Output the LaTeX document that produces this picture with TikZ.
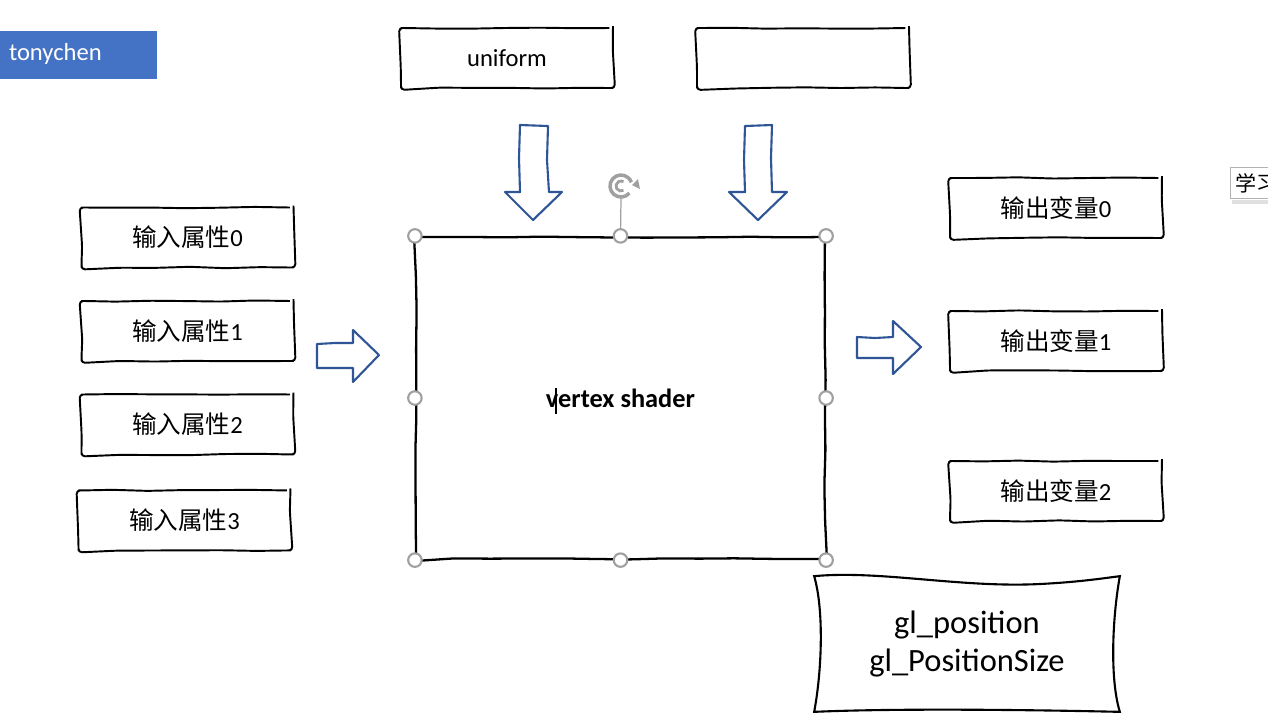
\documentclass[tikz,border=0pt]{standalone}
\usepackage{fontspec}
\setmainfont{Carlito}
\newfontfamily\cjk{Noto Sans CJK SC}
\usepackage{tikz}
\usetikzlibrary{positioning,decorations.pathmorphing,arrows.meta}
\definecolor{tonyblue}{RGB}{68,114,196}
\definecolor{arrowblue}{RGB}{47,85,151}
\definecolor{handlegrey}{RGB}{160,160,160}
\tikzstyle{sketch} = [draw, line width=1.1pt, line join=round, decorate, decoration={random steps,
segment length=0.7cm, amplitude=0.4pt}, rounded corners=2pt]
\tikzstyle{varbox} = [rectangle, sketch, text centered, minimum width=4.24cm, minimum
height=1.2cm, font=\fontsize{14}{17}\selectfont]
\tikzstyle{shader} = [rectangle, sketch, line width=1.3pt, minimum width=8.18cm, minimum
height=6.44cm, font=\bfseries\fontsize{15}{18}\selectfont]
\tikzstyle{blockarrow} = [draw=arrowblue, line width=1.2pt, fill=white, line join=round]
\tikzstyle{handle} = [circle, draw=handlegrey, fill=white, line width=1.2pt, inner sep=0pt,
minimum size=0.27cm]

\begin{document}
\pgfmathsetseed{7}
\begin{tikzpicture}[x=0.02cm, y=-0.02cm, node distance=1.87cm]
		\clip (0,0) rectangle (1268,725);
		\fill [white] (0,0) rectangle (1268,725);
		\node [fill=tonyblue, text=white, minimum width=3.14cm, minimum height=0.96cm, text width=2.78cm,
		align=left, font=\fontsize{14}{17}\selectfont] (tag) at (78.5,55) {\strut tonychen};
		\node [varbox] (uniform) at (507,58) {uniform};
		\node [varbox] (blank) at (803,58) {};
		\node [varbox] (in0) at (187.5,237.5) {{\cjk 输入属性}0};
		\node [varbox, below of=in0] (in1) {{\cjk 输入属性}1};
		\node [varbox, below of=in1] (in2) {{\cjk 输入属性}2};
		\node [varbox, below of=in2, xshift=-0.06cm, yshift=-0.05cm] (in3) {{\cjk 输入属性}3};
		\node [shader] (vs) at (620.5,398) {vertex shader};
		\node [varbox] (out0) at (1056,208) {{\cjk 输出变量}0};
		\node [varbox] (out1) at (1056,341) {{\cjk 输出变量}1};
		\node [varbox] (out2) at (1056,491) {{\cjk 输出变量}2};
		\node [align=center, minimum width=6.1cm, minimum height=2.7cm, font=\fontsize{18.5}{21.6}\selectfont]
		(gl) at (967,644) {gl\_position\\gl\_PositionSize};
		\draw [line width=1.2pt] (gl.north west) .. controls (880,570) and (960,588) .. (1040,584)
		.. controls (1080,582) and (1105,578) .. (gl.north east)
		.. controls (1112,620) and (1110,680) .. (gl.south east)
		.. controls (1040,710) and (900,708) .. (gl.south west)
		.. controls (822,670) and (824,610) .. cycle;
		\node [draw=handlegrey!80, line width=0.5pt, fill=white, anchor=west, minimum height=0.52cm,
		inner xsep=3pt, font=\fontsize{12}{14}\selectfont] (note) at (1230,183) {\cjk 学习};
		\fill [black!12] (note.south west) ++(2,1) rectangle ([xshift=20pt, yshift=-3pt]note.south east);
		% block arrows
		\draw [blockarrow] (520,125) -- (548,126) -- (547,160) -- (549,192) -- (562,192) -- (533,220)
		-- (505,192) -- (520,192) -- (519,158) -- cycle;
		\draw [blockarrow] (745,126) -- (772,125) -- (771,158) -- (772,192) -- (787,192) -- (758,220)
		-- (729,192) -- (745,192) -- (744,160) -- cycle;
		\draw [blockarrow] (317,344) -- (335,343) -- (353,343) -- (353,330) -- (379,355) -- (353,382)
		-- (353,368) -- (317,368) -- cycle;
		\draw [blockarrow] (857,337) -- (875,338) -- (893,337) -- (893,321) -- (921,347) -- (893,374)
		-- (893,358) -- (857,358) -- cycle;
		% selection handles
		\coordinate (rot) at (621,186);
		\draw [handlegrey, line width=0.7pt] (vs.north) -- (621,198);
		\draw [handlegrey, line width=2pt] ([shift={(40:11)}]rot) arc (40:340:11);
		\draw [handlegrey, line width=1.6pt] ([shift={(60:5)}]rot) arc (60:300:5);
		\fill [handlegrey] ([shift={(355:11)}]rot) -- ++(6,-6) -- ++(2,10) -- cycle;
		\draw [black, line width=0.8pt] (556,388) -- (556,414);
		\foreach \a [count=\i] in {north west,north,north east,west,east,south west,south,south east}
			\node [handle] (handle\i) at (vs.\a) {};
	\end{tikzpicture}
\end{document}
